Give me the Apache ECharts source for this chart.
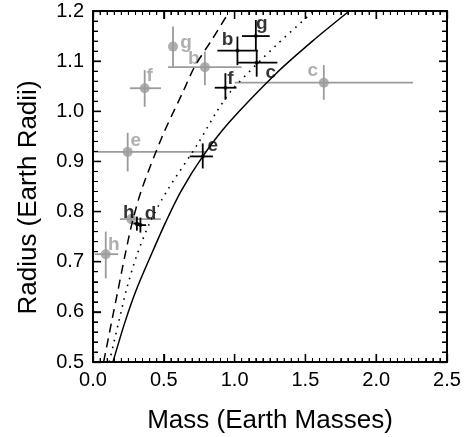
<!DOCTYPE html>
<html>
<head>
<meta charset="utf-8">
<script src="https://cdn.jsdelivr.net/npm/echarts@6/dist/echarts.min.js"></script>
<style>
  html, body { margin: 0; padding: 0; background: #fff; }
  #main { width: 471px; height: 437px; }
</style>
</head>
<body>
<div id="main"></div>
<script>
// planet letters, same order for both data sets
const planets = ["b", "c", "d", "e", "f", "g", "h"];

// older estimates (grey)
const grayMass = [0.79, 1.63, 0.27, 0.245, 0.365, 0.565, 0.09];
const grayMassLo = [0.53, 1.0, 0.19, 0.01, 0.26, 0.565, 0.012];
const grayMassHi = [1.05, 2.26, 0.48, 0.8, 0.48, 0.565, 0.177];
const grayRadius = [1.088, 1.057, 0.785, 0.919, 1.046, 1.129, 0.715];
const grayRadiusLo = [1.052, 1.023, 0.775, 0.88, 1.009, 1.089, 0.667];
const grayRadiusHi = [1.119, 1.092, 0.795, 0.957, 1.082, 1.169, 0.76];

// newer estimates (black)
const blackMass = [1.02, 1.156, 0.335, 0.775, 0.935, 1.15, 0.31];
const blackMassLo = [0.878, 1.024, 0.3, 0.683, 0.86, 1.052, 0.285];
const blackMassHi = [1.165, 1.302, 0.375, 0.847, 1.013, 1.248, 0.335];
const blackRadius = [1.121, 1.097, 0.773, 0.91, 1.047, 1.15, 0.776];
const blackRadiusLo = [1.092, 1.069, 0.758, 0.886, 1.023, 1.122, 0.762];
const blackRadiusHi = [1.149, 1.122, 0.788, 0.936, 1.076, 1.182, 0.79];

// mass-radius model curves, [mass, radius]
const solidCurve = [[0.141, 0.5], [0.224, 0.578], [0.306, 0.644], [0.405, 0.71], [0.51, 0.777],
  [0.62, 0.84], [0.775, 0.91], [0.965, 0.979], [1.295, 1.076], [1.55, 1.14], [1.81, 1.2]];
const dottedCurve = [[0.115, 0.5], [0.18, 0.578], [0.236, 0.644], [0.306, 0.71], [0.4, 0.777],
  [0.52, 0.84], [0.742, 0.936], [0.871, 0.998], [0.989, 1.045], [1.295, 1.132], [1.56, 1.2]];
const dashedCurve = [[0.075, 0.5], [0.13, 0.578], [0.177, 0.644], [0.224, 0.71], [0.276, 0.777],
  [0.345, 0.845], [0.494, 0.953], [0.636, 1.039], [0.718, 1.089], [0.847, 1.146], [0.965, 1.2]];

const xTicks = ["0.0", "0.5", "1.0", "1.5", "2.0", "2.5"];
const yTicks = ["0.5", "0.6", "0.7", "0.8", "0.9", "1.0", "1.1", "1.2"];

// label offsets (px from point centre)
const grayLabelOffset = { b: [-11, -8], c: [-11, -12], e: [8, -11], f: [5, -12], g: [13, -4], h: [8, -9] };
const blackLabelOffset = { b: [-10, -11], c: [14, 10], d: [10, -11], e: [10, -11], f: [5, -9], g: [6, -12], h: [-8, -11] };

const FONT = "Liberation Sans, Arial, Helvetica, sans-serif";
const GREY = "#9b9b9b";
const X_MIN = 0, X_MAX = 2.5, X_STEP = 0.5, X_MINOR = 10;
const Y_MIN = 0.5, Y_MAX = 1.2, Y_STEP = 0.1, Y_MINOR = 5;

function rows(m, mlo, mhi, r, rlo, rhi) {
  return m.map((v, i) => [v, r[i], mlo[i], mhi[i], rlo[i], rhi[i]]);
}

function errorBars(color) {
  return function (params, api) {
    const x = api.value(0), y = api.value(1);
    const a = api.coord([api.value(2), y]);
    const b = api.coord([api.value(3), y]);
    const c = api.coord([x, api.value(4)]);
    const d = api.coord([x, api.value(5)]);
    const st = { stroke: color, lineWidth: 1.8 };
    return {
      type: "group",
      children: [
        { type: "line", shape: { x1: a[0], y1: a[1], x2: b[0], y2: b[1] }, style: st },
        { type: "line", shape: { x1: c[0], y1: c[1], x2: d[0], y2: d[1] }, style: st },
      ],
    };
  };
}

// inward ticks on all four sides of the frame
const frameTicks = [];
for (let k = 0; k <= (X_MAX - X_MIN) / X_STEP * X_MINOR; k++) {
  frameTicks.push([X_MIN + k * X_STEP / X_MINOR, Y_MIN, 0, k % X_MINOR === 0 ? 8 : 4]);
}
for (let k = 0; k <= Math.round((Y_MAX - Y_MIN) / Y_STEP) * Y_MINOR; k++) {
  frameTicks.push([X_MIN, Y_MIN + k * Y_STEP / Y_MINOR, 1, k % Y_MINOR === 0 ? 8 : 5]);
}

function renderTick(params, api) {
  const cs = params.coordSys;
  const len = api.value(3);
  const st = { stroke: "#000", lineWidth: len > 6 ? 1.3 : 1 };
  if (api.value(2) === 0) {
    const px = api.coord([api.value(0), Y_MIN])[0];
    const b = cs.y + cs.height, t = cs.y;
    return { type: "group", children: [
      { type: "line", shape: { x1: px, y1: b, x2: px, y2: b - len }, style: st },
      { type: "line", shape: { x1: px, y1: t, x2: px, y2: t + len }, style: st },
    ] };
  }
  const py = api.coord([X_MIN, api.value(1)])[1];
  const l = cs.x, r = cs.x + cs.width;
  return { type: "group", children: [
    { type: "line", shape: { x1: l, y1: py, x2: l + len, y2: py }, style: st },
    { type: "line", shape: { x1: r, y1: py, x2: r - len, y2: py }, style: st },
  ] };
}

function pointData(m, r, color, offsets) {
  return m.map((v, i) => {
    const off = offsets[planets[i]];
    return {
      value: [v, r[i]],
      label: off
        ? { show: true, formatter: planets[i], position: "inside", offset: off,
            color: color, fontSize: 19, fontWeight: "bold", fontFamily: FONT }
        : { show: false },
    };
  });
}

const grayRows = rows(grayMass, grayMassLo, grayMassHi, grayRadius, grayRadiusLo, grayRadiusHi);
const blackRows = rows(blackMass, blackMassLo, blackMassHi, blackRadius, blackRadiusLo, blackRadiusHi);

function xAxisCfg(pos, labels) {
  return {
    type: "value", position: pos, min: X_MIN, max: X_MAX, interval: X_STEP,
    axisLine: { show: true, onZero: false, lineStyle: { color: "#000", width: 2 } },
    axisTick: { show: true, inside: true, length: 8, lineStyle: { color: "#000", width: 1.3 } },
    minorTick: { show: true, splitNumber: X_MINOR, length: 4, lineStyle: { color: "#000", width: 1 } },
    splitLine: { show: false },
    axisLabel: {
      show: labels, margin: 8, color: "#000", fontSize: 20, fontFamily: FONT,
      formatter: (v) => xTicks[Math.round((v - X_MIN) / X_STEP)],
    },
  };
}

function yAxisCfg(pos, labels) {
  return {
    type: "value", position: pos, min: Y_MIN, max: Y_MAX, interval: Y_STEP,
    axisLine: { show: true, onZero: false, lineStyle: { color: "#000", width: 2 } },
    axisTick: { show: true, inside: true, length: 8, lineStyle: { color: "#000", width: 1.3 } },
    minorTick: { show: true, splitNumber: Y_MINOR, length: 5, lineStyle: { color: "#000", width: 1 } },
    splitLine: { show: false },
    axisLabel: {
      show: labels, margin: 9, color: "#000", fontSize: 20, fontFamily: FONT,
      formatter: (v) => yTicks[Math.round((v - Y_MIN) / Y_STEP)],
    },
  };
}

const xBottom = xAxisCfg("bottom", true);
xBottom.name = "Mass (Earth Masses)";
xBottom.nameLocation = "middle";
xBottom.nameGap = 46;
xBottom.nameTextStyle = { color: "#000", fontSize: 26, fontFamily: FONT };

const yLeft = yAxisCfg("left", true);
yLeft.name = "Radius (Earth Radii)";
yLeft.nameLocation = "middle";
yLeft.nameGap = 51;
yLeft.nameTextStyle = { color: "#000", fontSize: 26, fontFamily: FONT, padding: [0, 22, 0, 0] };

const chart = echarts.init(document.getElementById("main"));

const option = {
  animation: false,
  grid: { left: 93, right: 24, top: 11, bottom: 75, outerBoundsMode: "none" },
  xAxis: [xBottom, xAxisCfg("top", false)],
  yAxis: [yLeft, yAxisCfg("right", false)],
  series: [
    {
      type: "custom", renderItem: renderTick, data: frameTicks,
      encode: { x: 0, y: 1 }, z: 10, silent: true,
    },
    {
      type: "custom", renderItem: errorBars(GREY), data: grayRows,
      encode: { x: 0, y: 1 }, z: 1, silent: true,
    },
    {
      type: "scatter", symbol: "circle", symbolSize: 10,
      itemStyle: { color: GREY }, data: pointData(grayMass, grayRadius, GREY, grayLabelOffset), z: 2,
    },
    {
      type: "line", data: solidCurve, smooth: 0.3, showSymbol: false, z: 3,
      lineStyle: { color: "#000", width: 1.5 },
    },
    {
      type: "line", data: dottedCurve, smooth: 0.3, showSymbol: false, z: 3,
      lineStyle: { color: "#000", width: 1.6, type: [1.6, 5.5] },
    },
    {
      type: "line", data: dashedCurve, smooth: 0.3, showSymbol: false, z: 3,
      lineStyle: { color: "#000", width: 1.5, type: [9, 6] },
    },
    {
      type: "custom", renderItem: errorBars("#000"), data: blackRows,
      encode: { x: 0, y: 1 }, z: 4, silent: true,
    },
    {
      type: "scatter", symbol: "circle", symbolSize: 4,
      itemStyle: { color: "#000" }, data: pointData(blackMass, blackRadius, "#000", blackLabelOffset), z: 5,
    },
  ],
};

chart.setOption(option);
</script>
</body>
</html>
